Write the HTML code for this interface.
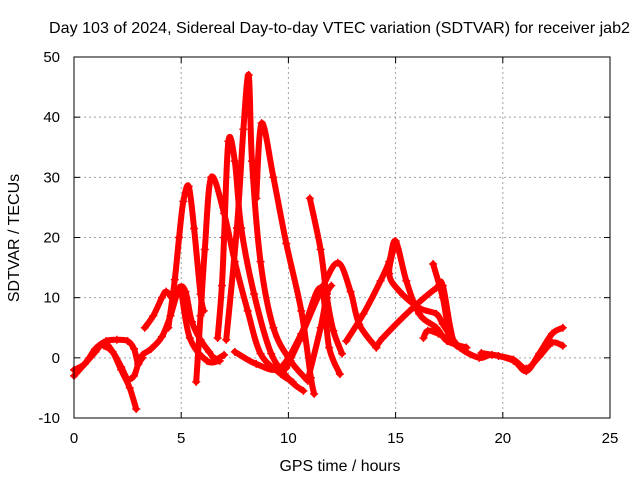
<!DOCTYPE html>
<html><head><meta charset="utf-8">
<style>
html,body{margin:0;padding:0;background:#fff;}
svg{display:block;font-family:"Liberation Sans",sans-serif;}
</style></head>
<body>
<svg id="chart" width="640" height="480" xmlns="http://www.w3.org/2000/svg">
<text x="49" y="33" textLength="581" lengthAdjust="spacingAndGlyphs" font-size="16" fill="#000">Day 103 of 2024, Sidereal Day-to-day VTEC variation (SDTVAR) for receiver jab2</text>
<g id="grid"></g>
<g id="ticks"></g>
<g id="series"></g>
<rect x="74" y="57" width="536" height="361" fill="none" stroke="#000" stroke-width="1"/>
<text x="340" y="471" text-anchor="middle" font-size="16" textLength="121" lengthAdjust="spacingAndGlyphs">GPS time / hours</text>
<text transform="translate(19,238) rotate(-90)" text-anchor="middle" font-size="16">SDTVAR / TECUs</text>
</svg>
<script>
const xTicks = [0, 5, 10, 15, 20, 25];
const yTicks = [-10, 0, 10, 20, 30, 40, 50];
// each arc: hours and SDTVAR values
const arcHours = [
 [0,0.5,1,1.5,2,2.5,2.8,3.0,3.2,3.6,4.1,4.5,4.9,5.2,5.5,5.9,6.3,6.6,7.0],
 [0,0.5,1.0,1.4,1.8,2.2,2.6,2.9],
 [1.4,1.8,2.2,2.5,2.8,3.0,3.2],
 [3.3,3.7,4.1,4.3,4.6,4.9,5.0,5.4,6.2,6.8],
 [4.4,4.7,4.9,5.1,5.35,5.6,5.9,6.05],
 [5.7,5.9,6.1,6.4,7.0,7.5,8.1,8.7,9.65,10.2],
 [6.7,6.9,7.0,7.2,7.5,7.8,8.4,9.2,10.1,10.7],
 [7.1,7.6,7.9,8.15,8.3,8.7,9.3,10.1,10.9],
 [8.5,8.75,9.3,9.9,10.6,11.05,11.2],
 [7.5,8.5,9.6,10.6,11.5,11.9,12.4],
 [11.0,11.5,11.8,12.1,12.5],
 [9.9,10.5,11.5,12.3,12.9,13.3,14.1],
 [10.9,11.5,11.8,12.0],
 [12.7,13.5,14.3,14.7,15.0,15.5,16.1,16.9,17.4,18.3],
 [15.0,14.7,15.2,16.1,16.9,17.2,17.7],
 [14.1,14.4,15.8,16.9,17.2,17.7,18.3],
 [16.75,17.2,17.5,18.0,18.9,19.5,20.5,21.1,21.7,22.3,22.8],
 [19.0,19.8,20.5,21.1,21.7,22.3,22.8],
 [16.3,16.5,17.0,17.5]
];
const arcValues = [
 [-2,-1,1.5,2.8,3,2.8,1.5,-1,0.5,1.5,3.5,7,11.5,11,6,3,1,-0.2,0.5],
 [-3,-1,1,2.5,1,-2,-5,-8.5],
 [2,1,-1.5,-3.5,-3,-1,0],
 [5,7,10,11,10,11.5,11,3.3,-0.5,-0.5],
 [5,13,20,26,28.5,21.5,10.6,7.8],
 [-4,7,18,30,24,16,7.8,0.7,-2.7,-4],
 [3.3,12,20,36,32.7,21.6,10.6,0.7,-3.8,-5.5],
 [3,21.6,38,47,32.7,16,5,-0.5,-3.8],
 [26.5,39,30,19,7.8,-3.3,-6],
 [1,-1,-1.7,4,11.6,1.7,-2.7],
 [26.5,18,10,4.5,0.7],
 [-1.7,2.8,11,15.8,11,5.6,1.7],
 [-3.8,5,10.6,12],
 [2.8,7.3,12.8,16,19.4,12.8,7.3,5,2.8,1.7],
 [19.4,14,11,8.3,7.3,5.6,2.8],
 [1.7,3.3,8.3,11.6,12,2.8,1.7],
 [15.6,10,4.5,1.7,0,0.5,-0.5,-2.2,0.7,4,5],
 [0.8,0.3,-0.3,-1.8,0.2,2.5,2],
 [3.3,4.5,4,3]
];
const NS = "http://www.w3.org/2000/svg";
const X0 = 74, X1 = 610, Y0 = 418, Y1 = 57;
function xs(h){ return X0 + (h - 0) / 25 * (X1 - X0); }
function ys(v){ return Y0 - (v + 10) / 60 * (Y0 - Y1); }
const grid = document.getElementById('grid');
const ticks = document.getElementById('ticks');
xTicks.forEach(t => {
  const x = xs(t);
  if (t > 0 && t < 25) {
    const g = document.createElementNS(NS,'line');
    
    
    g.setAttribute('x1',x);g.setAttribute('x2',x);g.setAttribute('y1',Y1);g.setAttribute('y2',Y0);
    g.setAttribute('stroke','#a0a0a0');g.setAttribute('stroke-dasharray','2,3');
    grid.appendChild(g);
  }
  [[Y0,Y0-6],[Y1,Y1+6]].forEach(p=>{
    const tk = document.createElementNS(NS,'line');
    
    
    tk.setAttribute('x1',x);tk.setAttribute('x2',x);tk.setAttribute('y1',p[0]);tk.setAttribute('y2',p[1]);
    tk.setAttribute('stroke','#000');
    ticks.appendChild(tk);
  });
  const lb = document.createElementNS(NS,'text');
  
  
  lb.setAttribute('x',x);lb.setAttribute('y',Y0+25);lb.setAttribute('text-anchor','middle');lb.setAttribute('font-size','15');
  lb.textContent = t;
  ticks.appendChild(lb);
});
yTicks.forEach(t => {
  const y = ys(t);
  if (t > -10 && t < 50) {
    const g = document.createElementNS(NS,'line');
    
    
    g.setAttribute('x1',X0);g.setAttribute('x2',X1);g.setAttribute('y1',y);g.setAttribute('y2',y);
    g.setAttribute('stroke','#a0a0a0');g.setAttribute('stroke-dasharray','2,3');
    grid.appendChild(g);
  }
  [[X0,X0+6],[X1,X1-6]].forEach(p=>{
    const tk = document.createElementNS(NS,'line');
    
    
    tk.setAttribute('x1',p[0]);tk.setAttribute('x2',p[1]);tk.setAttribute('y1',y);tk.setAttribute('y2',y);
    tk.setAttribute('stroke','#000');
    ticks.appendChild(tk);
  });
  const lb = document.createElementNS(NS,'text');
  
  
  lb.setAttribute('x',X0-14);lb.setAttribute('y',y+5);lb.setAttribute('text-anchor','end');lb.setAttribute('font-size','15');
  lb.textContent = t;
  ticks.appendChild(lb);
});
function smoothPath(p){
  let d = `M${p[0][0]},${p[0][1]}`;
  for(let i=0;i<p.length-1;i++){
    const p0=p[Math.max(0,i-1)], p1=p[i], p2=p[i+1], p3=p[Math.min(p.length-1,i+2)];
    const c1x=p1[0]+(p2[0]-p0[0])/6, c1y=p1[1]+(p2[1]-p0[1])/6;
    const c2x=p2[0]-(p3[0]-p1[0])/6, c2y=p2[1]-(p3[1]-p1[1])/6;
    d += `C${c1x.toFixed(1)},${c1y.toFixed(1)} ${c2x.toFixed(1)},${c2y.toFixed(1)} ${p2[0].toFixed(1)},${p2[1].toFixed(1)}`;
  }
  return d;
}
const series = document.getElementById('series');
arcHours.forEach((hs, i) => {
  const vs = arcValues[i];
  const pts = hs.map((h,j)=> [xs(h), ys(vs[j])]);
  const pl = document.createElementNS(NS,'path');
  
  
  pl.setAttribute('d',smoothPath(pts));
  pl.setAttribute('fill','none');pl.setAttribute('stroke','#ff0000');
  pl.setAttribute('stroke-width','6');pl.setAttribute('stroke-linejoin','round');pl.setAttribute('stroke-linecap','round');
  series.appendChild(pl);
  hs.forEach((h,j)=>{
    const x = xs(h), y = ys(vs[j]);
    const m = document.createElementNS(NS,'path');
    
    
    m.setAttribute('d',`M${x-4},${y}H${x+4}M${x},${y-4}V${y+4}`);
    m.setAttribute('stroke','#ff0000');m.setAttribute('stroke-width','1.5');
    series.appendChild(m);
  });
});
</script>
</body></html>
